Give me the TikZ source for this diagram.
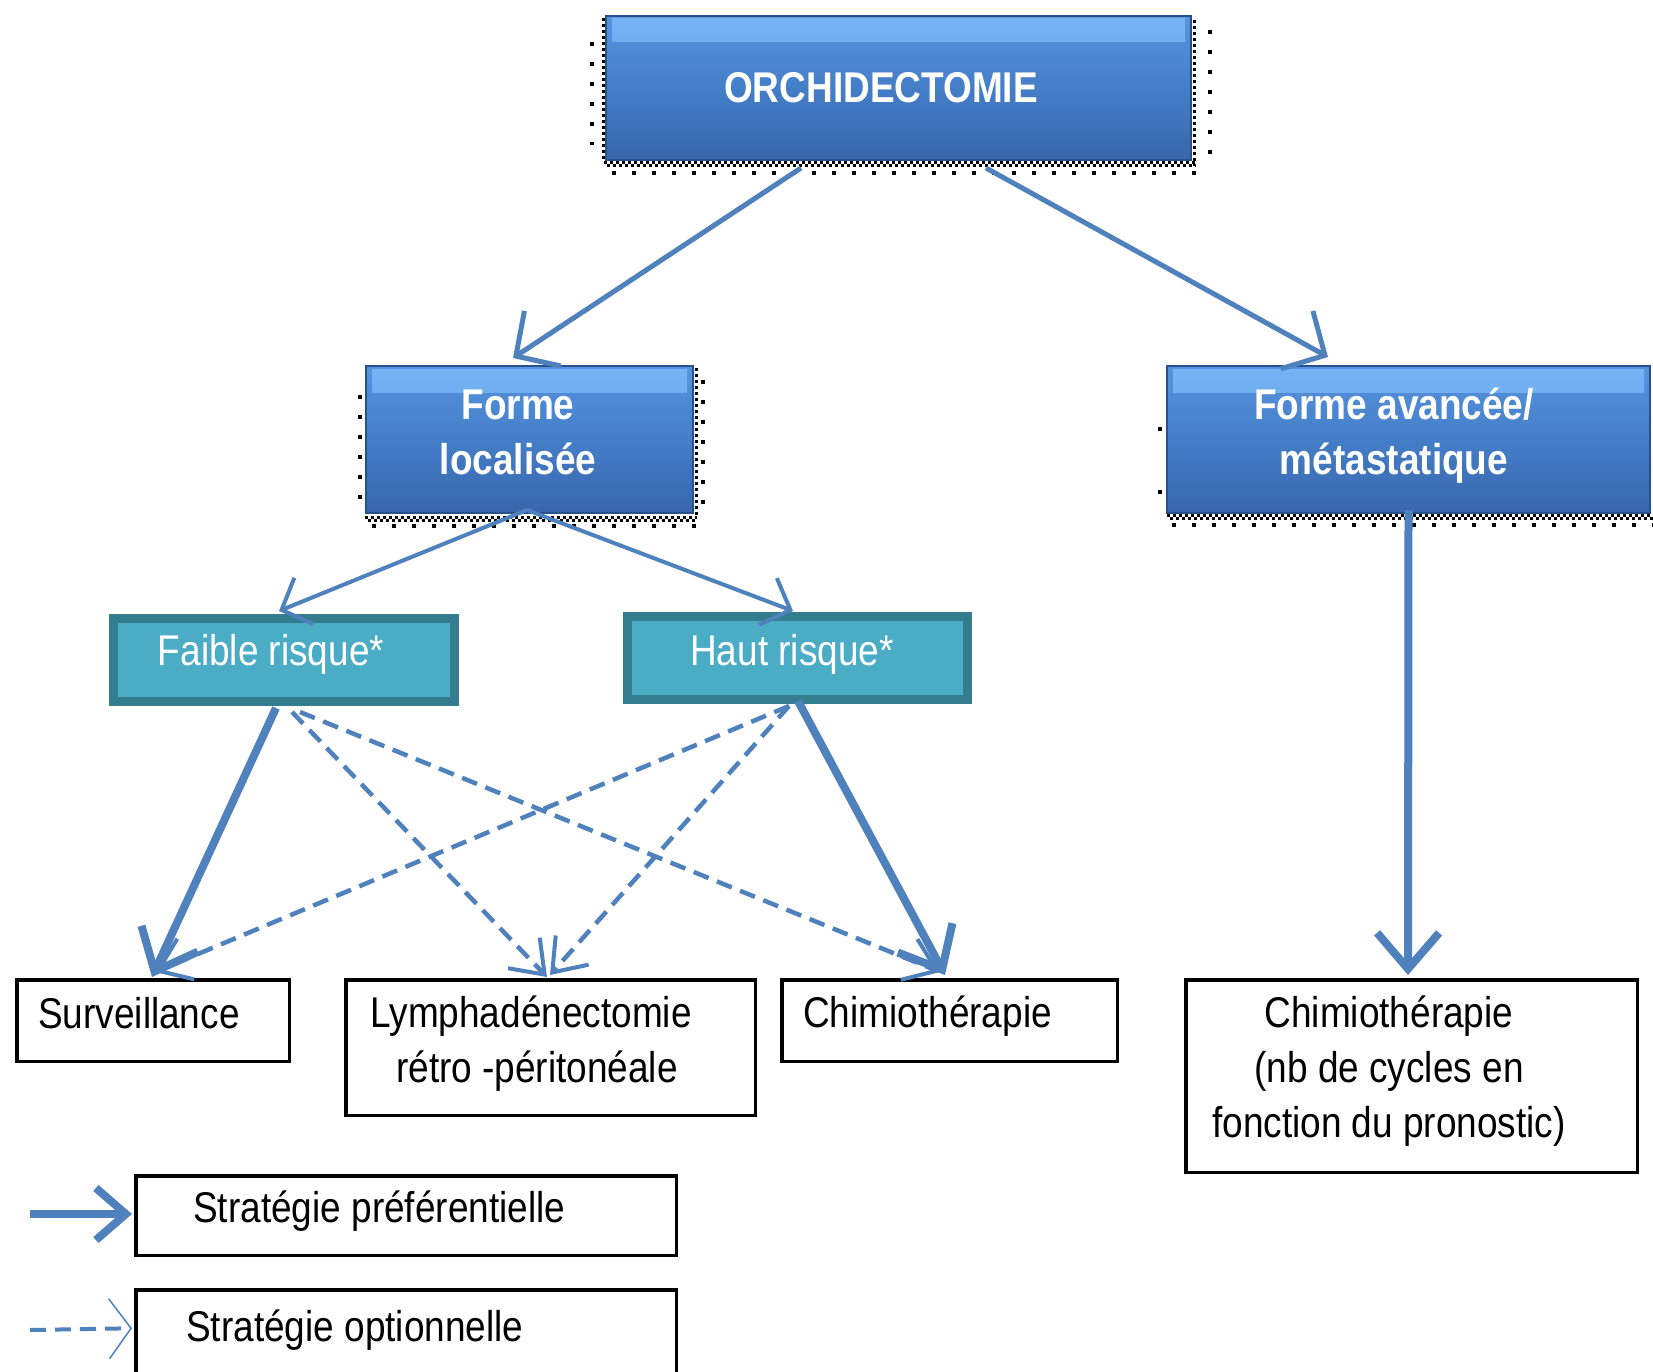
\documentclass[tikz,border=0pt]{standalone}
\usepackage{fontspec}
\setmainfont{Liberation Sans}[FakeStretch=0.86]
\usetikzlibrary{arrows.meta,calc}
\definecolor{lblue}{RGB}{79,129,189}
\definecolor{btop}{RGB}{88,148,222}
\definecolor{bmid}{RGB}{68,126,200}
\definecolor{bbot}{RGB}{56,102,172}
\definecolor{bhigh}{RGB}{118,180,245}
\definecolor{bedge}{RGB}{40,80,140}
\definecolor{tfill}{RGB}{75,172,198}
\definecolor{tedge}{RGB}{52,125,143}
\begin{document}
\begin{tikzpicture}[x=1pt,y=-1pt,
  bluebox/.style={rectangle, inner sep=0pt, draw=bedge, line width=2pt,
    top color=btop, bottom color=bbot, middle color=bmid,
    path picture={\fill[top color=bhigh, bottom color=btop]
      ($(path picture bounding box.north west)+(6,3)$) rectangle
      ($(path picture bounding box.north east)+(-6,26)$);}},
  riskbox/.style={rectangle, inner sep=0pt, fill=tfill, draw=tedge, line width=9pt},
  whitebox/.style={rectangle, inner sep=0pt, draw=black, line width=3.5pt, fill=white},
  btxt/.style={font=\fontsize{43}{55}\selectfont\bfseries, text=white, align=center, inner sep=0pt},
  wtxt/.style={font=\fontsize{43}{55}\selectfont, text=white, inner sep=0pt},
  ktxt/.style={font=\fontsize{43}{55}\selectfont, text=black, align=center, inner sep=0pt},
  mainarr/.style={draw=lblue, line width=5pt, -{Straight Barb[length=32pt,width=66pt]}},
  subarr/.style={draw=lblue, line width=4pt, -{Straight Barb[length=24pt,width=50pt]}},
  preferarr/.style={draw=lblue, line width=8pt, -{Straight Barb[length=36pt,width=62pt]}},
  legarr/.style={draw=lblue, line width=8pt, -{Straight Barb[length=30pt,width=52pt]}},
  optarr/.style={draw=lblue, line width=4.5pt, dash pattern=on 16pt off 9pt,
    -{Straight Barb[length=30pt,width=44pt,line width=4pt]}},
  optleg/.style={draw=lblue, line width=4pt, dash pattern=on 16pt off 9pt,
    -{Straight Barb[length=22pt,width=60pt,line width=1.5pt]}},
  chk/.style={draw=black, line width=3pt, dash pattern=on 3pt off 3pt},
  spr/.style={draw=black, line width=4pt, dash pattern=on 4pt off 16pt}
]
\useasboundingbox (0,0) rectangle (1653,1372);
\fill[white] (0,0) rectangle (1653,1372);

% dotted shadows
\draw[chk] (604,163) -- (1196,163);
\draw[chk,dash phase=3pt] (604,166) -- (1196,166);
\draw[spr] (612,173) -- (1200,173);
\draw[chk] (1194,20) -- (1194,166);
\draw[spr] (1210,30) -- (1210,160);
\draw[spr] (592,42) -- (592,145);
\draw[chk] (603,18) -- (603,162);

\draw[chk] (365,517) -- (697,517);
\draw[chk,dash phase=3pt] (365,520) -- (697,520);
\draw[spr] (372,526) -- (697,526);
\draw[chk] (696,368) -- (696,515);
\draw[spr] (703,380) -- (703,505);
\draw[spr] (360,395) -- (360,500);

\draw[chk] (1167,515) -- (1653,515);
\draw[chk,dash phase=3pt] (1167,518) -- (1653,518);
\draw[spr] (1172,525) -- (1653,525);
\fill[black] (1158,427) rectangle (1162,431);
\fill[black] (1158,490) rectangle (1162,494);

% boxes
\node[bluebox, minimum width=585pt, minimum height=144pt] (T) at (898.5,88) {};
\node[bluebox, minimum width=327pt, minimum height=147pt] (FL) at (529.5,439.5) {};
\node[bluebox, minimum width=483pt, minimum height=147pt] (FA) at (1408.5,439.5) {};
\node[riskbox, minimum width=341pt, minimum height=83pt] (FR) at (284,660) {};
\node[riskbox, minimum width=340pt, minimum height=83pt] (HR) at (797.5,658) {};
\node[whitebox, minimum width=272.5pt, minimum height=81.5pt] (S) at (153,1020.5) {};
\node[whitebox, minimum width=409.5pt, minimum height=135.5pt] (L) at (550.5,1047.5) {};
\node[whitebox, minimum width=335.5pt, minimum height=81.5pt] (C) at (949.5,1020.5) {};
\node[whitebox, minimum width=451.5pt, minimum height=192.5pt] (CR) at (1411.5,1076) {};
\node[whitebox, minimum width=540.5pt, minimum height=79.5pt] (LG1) at (406,1215.5) {};
\node[whitebox, minimum width=540.5pt, minimum height=120pt] (LG2) at (406,1350) {};

% texts
\node[btxt] (Tt) at (881,88) {ORCHIDECTOMIE};
\node[btxt] (FLt) at (518,432) {Forme\\localisée};
\node[btxt] (FAt) at (1394,436) {Forme avancée/\\métastatique};
\node[wtxt] (FRt) at (271,654) {Faible risque*};
\node[wtxt] (HRt) at (792,654) {Haut risque*};
\node[ktxt, anchor=west] (St) at (38,1013) {Surveillance};
\node[ktxt] (Lt) at (531,1044) {Lymphadénectomie\\\hspace*{12pt}rétro -péritonéale};
\node[ktxt, anchor=west] (Ct) at (803,1016) {Chimiothérapie};
\node[ktxt] (CRt) at (1389,1071) {Chimiothérapie\\(nb de cycles en\\fonction du pronostic)};
\node[ktxt, anchor=west] (LG1t) at (193,1211) {Stratégie préférentielle};
\node[ktxt, anchor=west] (LG2t) at (186,1330) {Stratégie optionnelle};

% connectors
\draw[mainarr] ($(T.south)+(-97.5,7)$) -- ($(FL.north)+(-16.5,-7)$);
\draw[mainarr] ($(T.south)+(87.5,7)$) -- ($(FA.north)+(-80.5,-8)$);
\draw[subarr] ($(FL.south)+(-2.5,-4)$) -- ($(FR.north)+(-5,-3)$);
\draw[subarr] ($(FL.south)+(-2.5,-4)$) -- ($(HR.north)+(-4.5,-1)$);
\draw[preferarr] ($(FA.south)+(0,-4)$) -- ($(CR.north)+(-3.5,-3)$);
\draw[optarr] ($(FR.south)+(8,6)$) -- ($(L.north)+(-3.5,-1)$);
\draw[optarr] ($(FR.south)+(16,6)$) -- ($(C.north)+(-9.5,-6)$);
\draw[optarr] ($(HR.south)+(-8.5,2)$) -- ($(S.north)+(2,-6)$);
\draw[optarr] ($(HR.south)+(-8.5,2)$) -- ($(L.north)+(-0.5,-3)$);
\draw[preferarr] ($(FR.south)+(-8,2)$) -- ($(S.north)+(-1,-1)$);
\draw[preferarr] ($(HR.south)+(0.5,-3)$) -- ($(C.north)+(-4.5,-3)$);

% legend
\coordinate (lp1) at (30,1214);
\coordinate (lp2) at (30,1330);
\draw[legarr] (lp1) -- ($(LG1.west)+(-2,-1.5)$);
\draw[optleg] (lp2) -- ($(LG2.north west)+(-2,40)$);
\end{tikzpicture}
\end{document}
